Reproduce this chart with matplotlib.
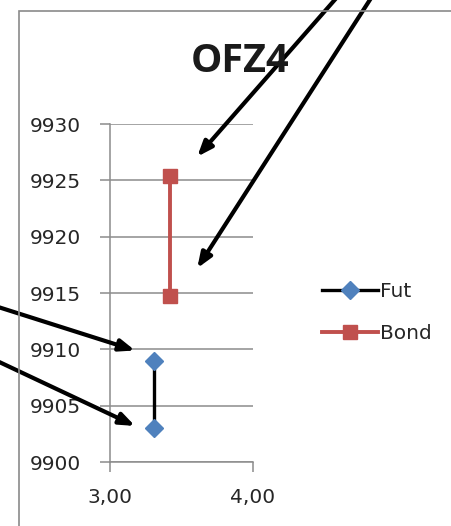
import matplotlib
matplotlib.use("Agg")
import matplotlib.pyplot as plt
from matplotlib.patches import Rectangle
from matplotlib.ticker import FuncFormatter

# Series data
fut_x = [3.31, 3.31]
fut_y = [9909.0, 9903.0]
bond_x = [3.42, 3.42]
bond_y = [9925.4, 9914.7]

title = "OFZ4"
series_names = ["Fut", "Bond"]
y_ticks = [9900, 9905, 9910, 9915, 9920, 9925, 9930]
x_ticks = [3.0, 4.0]

W, H = 452, 526
fig = plt.figure(figsize=(W / 100, H / 100), dpi=100)
fig.patch.set_facecolor("white")

# chart frame
fig.patches.append(Rectangle((19 / W, -0.05), 1.1, 1 - 11 / H + 0.05,
                             transform=fig.transFigure, fill=False,
                             edgecolor="#8a8a8a", lw=1.2, zorder=0))

ax = fig.add_axes([110 / W, 1 - 462 / H, 143 / W, (462 - 124) / H])
ax.set_xlim(3, 4)
ax.set_ylim(9900, 9930)

grid_c = "#8c8c8c"
for s in ["top", "right"]:
    ax.spines[s].set_visible(False)
for s in ["left", "bottom"]:
    ax.spines[s].set_color(grid_c)
    ax.spines[s].set_linewidth(1.1)

ax.set_yticks(y_ticks)
ax.set_xticks(x_ticks)
ax.yaxis.grid(True, color=grid_c, lw=1.1)
ax.set_axisbelow(True)
ax.tick_params(axis="both", colors=grid_c, length=7, width=1.1, labelsize=14.5,
               labelcolor="#262626")
ax.tick_params(axis="y", pad=14)
ax.tick_params(axis="x", pad=12)
ax.xaxis.set_major_formatter(FuncFormatter(lambda v, p: f"{v:.2f}".replace(".", ",")))

ax.plot(fut_x, fut_y, color="black", lw=2.4, marker="D", markersize=9,
        markerfacecolor="#4F81BD", markeredgecolor="#4F81BD", label=series_names[0],
        zorder=3)
ax.plot(bond_x, bond_y, color="#C0504D", lw=2.8, marker="s", markersize=10,
        markerfacecolor="#C0504D", markeredgecolor="#C0504D", label=series_names[1],
        zorder=3)

fig.text(240 / W, 1 - 62 / H, title, ha="center", va="center",
         fontsize=28.5, fontweight="bold", family="Open Sans", color="#1a1a1a")

leg = fig.legend(loc="upper left", bbox_to_anchor=(322 / W, 1 - 282 / H),
                 frameon=False, fontsize=14.5, handlelength=2.8,
                 handletextpad=0.1, labelspacing=1.15, borderpad=0,
                 borderaxespad=0)
for t in leg.get_texts():
    t.set_color("#262626")

# annotation arrows (tips in data units, tails in figure pixels)
arrow_tips = [(3.61, 9927.1), (3.61, 9917.2), (3.175, 9909.9), (3.175, 9903.2)]
arrow_tails = [(339, -5), (373, -5), (-5, 306), (-5, 360)]
for (tx, ty), (sx, sy) in zip(arrow_tips, arrow_tails):
    ax.annotate("", xy=(tx, ty), xycoords="data",
                xytext=(sx, H - sy), textcoords="figure pixels",
                arrowprops=dict(arrowstyle="-|>,head_length=0.9,head_width=0.35",
                                color="black", lw=3, shrinkA=0, shrinkB=0),
                annotation_clip=False, zorder=5)

fig.savefig("out.png", dpi=100)
